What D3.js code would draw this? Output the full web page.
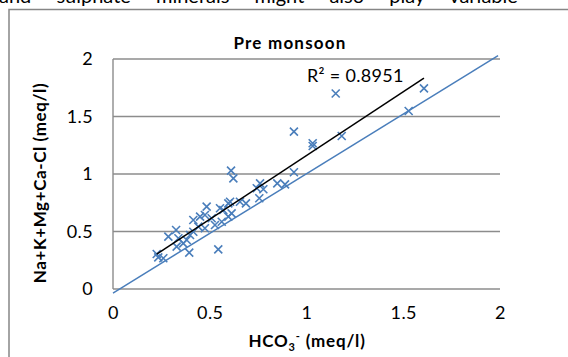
<!DOCTYPE html>
<html>
<head>
<meta charset="utf-8">
<script src="https://cdn.jsdelivr.net/npm/d3@7/dist/d3.min.js"></script>
<style>
  html, body { margin: 0; padding: 0; background: #fff; overflow: hidden; }
  svg { display: block; }
  text { font-family: Lato, "Open Sans", sans-serif; fill: #000; }
</style>
</head>
<body>
<svg id="chart" width="568" height="357"></svg>
<script>
// HCO3- vs (Na+K+Mg+Ca-Cl), pre monsoon samples (meq/l)
const hco3 = [0.226,0.234,0.260,0.286,0.326,0.338,0.329,0.363,0.381,0.398,0.394,0.415,0.415,0.441,0.450,0.475,0.475,0.484,0.510,0.527,0.544,0.553,0.562,0.570,0.596,0.596,0.605,0.613,0.610,0.622,0.656,0.687,0.743,0.756,0.760,0.777,0.849,0.889,0.935,0.935,1.032,1.032,1.151,1.182,1.528,1.607];
const cations = [0.304,0.275,0.267,0.455,0.513,0.441,0.368,0.397,0.426,0.470,0.316,0.498,0.600,0.542,0.629,0.528,0.643,0.716,0.615,0.557,0.345,0.702,0.585,0.687,0.629,0.745,0.759,0.658,1.029,0.962,0.759,0.745,0.876,0.789,0.919,0.867,0.919,0.910,1.015,1.368,1.267,1.243,1.700,1.330,1.548,1.745];
// reference line drawn across the plot
const refLineX = [0, 1.99];
const refLineY = [-0.035, 2.03];
const xTicks = [0, 0.5, 1, 1.5, 2];
const yTicks = [0, 0.5, 1, 1.5, 2];
const rSquaredLabel = "R² = 0.8951";

const svg = d3.select("#chart");

// surrounding page text, clipped at the top edge
svg.append("text")
  .attr("x", -1).attr("y", 3)
  .attr("font-size", 20)
  .attr("word-spacing", 20)
  .text("and sulphate minerals might also play variable");

// chart frame
svg.append("path")
  .attr("d", "M9,360 V9.5 H570")
  .attr("fill", "none").attr("stroke", "#868686").attr("stroke-width", 1.5);

const plot = { left: 113, right: 500, top: 59, bottom: 289 };
const x = d3.scaleLinear().domain([0, 2]).range([plot.left, plot.right]);
const y = d3.scaleLinear().domain([0, 2]).range([plot.bottom, plot.top]);

// horizontal gridlines
svg.append("g").selectAll("line").data(yTicks).join("line")
  .attr("x1", plot.left).attr("x2", plot.right)
  .attr("y1", d => y(d)).attr("y2", d => y(d))
  .attr("stroke", "#8c8c8c").attr("stroke-width", 1.4);

// left axis line
svg.append("line")
  .attr("x1", plot.left).attr("x2", plot.left)
  .attr("y1", plot.top).attr("y2", plot.bottom)
  .attr("stroke", "#8c8c8c").attr("stroke-width", 1.4);

// tick labels
const yAxis = d3.axisLeft(y).tickValues(yTicks).tickSize(0).tickPadding(20).tickFormat(d3.format("~g"));
const gy = svg.append("g").attr("transform", `translate(${plot.left},0)`).call(yAxis);
gy.select(".domain").remove();
gy.selectAll("text").attr("font-size", 18).attr("letter-spacing", 0.4)
  .attr("font-family", "Lato, sans-serif").attr("fill", "#000");

const xAxis = d3.axisBottom(x).tickValues(xTicks).tickSize(0).tickPadding(17).tickFormat(d3.format("~g"));
const gx = svg.append("g").attr("transform", `translate(0,${plot.bottom})`).call(xAxis);
gx.select(".domain").remove();
gx.selectAll("text").attr("font-size", 18).attr("letter-spacing", 0.4)
  .attr("font-family", "Lato, sans-serif").attr("fill", "#000");

// title
svg.append("text")
  .attr("x", 290).attr("y", 49)
  .attr("text-anchor", "middle")
  .attr("font-size", 17).attr("font-weight", "bold").attr("letter-spacing", 1.2)
  .text("Pre monsoon");

// axis titles
const xt = svg.append("text")
  .attr("x", 307).attr("y", 347)
  .attr("text-anchor", "middle")
  .attr("font-size", 17).attr("font-weight", "bold").attr("letter-spacing", 0.8);
xt.append("tspan").text("HCO");
xt.append("tspan").attr("font-size", 11).attr("dy", 4).text("3");
xt.append("tspan").attr("font-size", 11).attr("dy", -11).text("-");
xt.append("tspan").attr("dy", 7).text(" (meq/l)");

svg.append("text")
  .attr("transform", "translate(46,183) rotate(-90)")
  .attr("text-anchor", "middle")
  .attr("font-size", 17).attr("font-weight", "bold").attr("letter-spacing", 0.6)
  .text("Na+K+Mg+Ca-Cl (meq/l)");

const blue = "#4a7ebb";

// reference line
svg.append("line")
  .attr("x1", x(refLineX[0])).attr("y1", y(refLineY[0]))
  .attr("x2", x(refLineX[1])).attr("y2", y(refLineY[1]))
  .attr("stroke", blue).attr("stroke-width", 1.5);

// sample markers
const pts = hco3.map((v, i) => [v, cations[i]]);
const s = 4;
svg.append("g").selectAll("path").data(pts).join("path")
  .attr("d", d => {
    const cx = x(d[0]), cy = y(d[1]);
    return `M${cx - s},${cy - s}L${cx + s},${cy + s}M${cx - s},${cy + s}L${cx + s},${cy - s}`;
  })
  .attr("fill", "none").attr("stroke", blue).attr("stroke-width", 1.6);

// least-squares trendline over the sampled range
const mx = d3.mean(hco3), my = d3.mean(cations);
let sxy = 0, sxx = 0;
hco3.forEach((v, i) => { sxy += (v - mx) * (cations[i] - my); sxx += (v - mx) * (v - mx); });
const slope = sxy / sxx, intercept = my - slope * mx;
const [x0, x1] = d3.extent(hco3);
svg.append("line")
  .attr("x1", x(x0)).attr("y1", y(intercept + slope * x0))
  .attr("x2", x(x1)).attr("y2", y(intercept + slope * x1))
  .attr("stroke", "#000").attr("stroke-width", 1.5);

svg.append("text")
  .attr("x", 307).attr("y", 82)
  .attr("font-size", 18).attr("letter-spacing", 0.3)
  .text(rSquaredLabel);
</script>
</body>
</html>
